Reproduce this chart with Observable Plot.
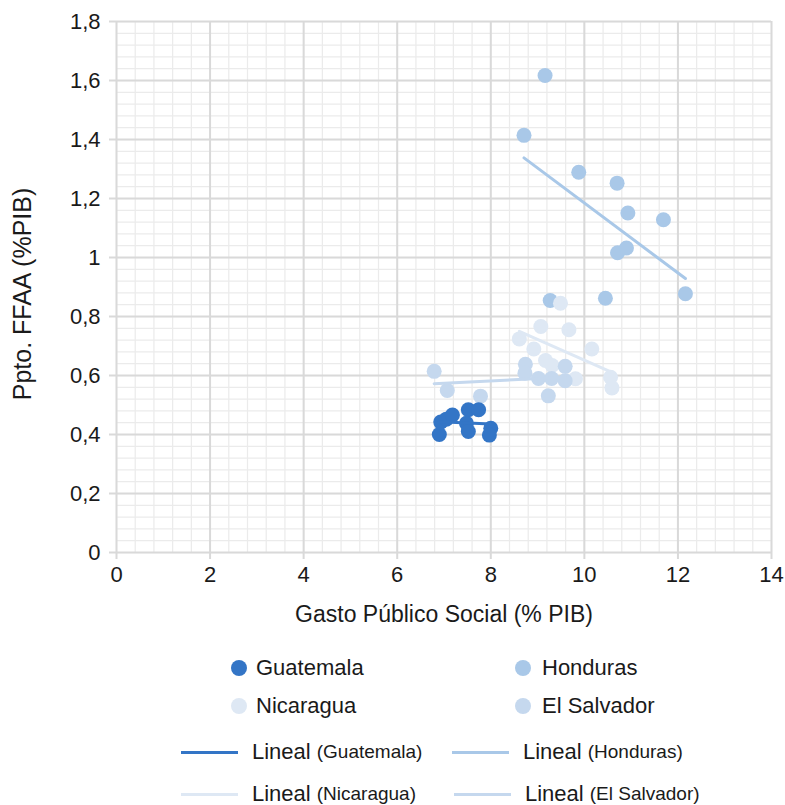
<!DOCTYPE html>
<html>
<head>
<meta charset="utf-8">
<script src="https://cdn.jsdelivr.net/npm/d3@7"></script>
<script src="https://cdn.jsdelivr.net/npm/@observablehq/plot@0.6"></script>
<style>
  body { margin: 0; background: #fff; font-family: "Liberation Sans", Arial, sans-serif; }
  #wrap { position: relative; width: 785px; height: 805px; }
  .li { position: absolute; display: flex; align-items: center; height: 30px; color: #1a1a1a; white-space: nowrap; }
  .dot { display: inline-block; width: 16px; height: 16px; border-radius: 50%; }
  .ln { display: inline-block; height: 3px; }
  .big { font-size: 22px; }
  .small { font-size: 19px; }
  #ylab { position: absolute; left: 22px; top: 294px; transform: translate(-50%, -50%) rotate(-90deg); white-space: nowrap; font-size: 25px; color: #1a1a1a; }
</style>
</head>
<body>
<div id="wrap"></div>
<script>
// ---- data ----
const countries = ["Guatemala", "Honduras", "Nicaragua", "El Salvador"];
const colors = ["#3375c6", "#a9c8e8", "#dee8f4", "#c5d8ee"];

const guatemalaGasto = [6.90, 6.93, 7.05, 7.18, 7.52, 7.74, 7.48, 7.52, 8.00, 7.97];
const guatemalaPpto  = [0.400, 0.442, 0.452, 0.466, 0.484, 0.484, 0.438, 0.410, 0.421, 0.398];

const hondurasGasto = [9.16, 8.71, 9.88, 10.70, 10.93, 11.69, 10.71, 10.90, 12.16, 10.45, 9.27];
const hondurasPpto  = [1.617, 1.414, 1.289, 1.252, 1.151, 1.128, 1.016, 1.032, 0.877, 0.862, 0.854];

const nicaraguaGasto = [9.49, 9.07, 9.67, 8.61, 8.92, 10.16, 9.17, 9.31, 9.81, 10.56, 10.59];
const nicaraguaPpto  = [0.845, 0.766, 0.755, 0.724, 0.690, 0.690, 0.651, 0.634, 0.589, 0.594, 0.558];

const salvadorGasto = [6.79, 7.07, 7.78, 8.74, 8.73, 9.02, 9.30, 9.59, 9.59, 9.23];
const salvadorPpto  = [0.614, 0.549, 0.530, 0.638, 0.608, 0.590, 0.590, 0.631, 0.582, 0.531];

const xTicks = [0, 2, 4, 6, 8, 10, 12, 14];
const yTicks = [0, 0.2, 0.4, 0.6, 0.8, 1, 1.2, 1.4, 1.6, 1.8];
const xLabel = "Gasto Público Social (% PIB)";
const yLabel = "Ppto. FFAA (%PIB)";

// ---- build tables ----
const seriesX = [guatemalaGasto, hondurasGasto, nicaraguaGasto, salvadorGasto];
const seriesY = [guatemalaPpto, hondurasPpto, nicaraguaPpto, salvadorPpto];
const tables = countries.map((c, i) => seriesX[i].map((x, j) => ({country: c, x, y: seriesY[i][j]})));

const fmt = d => String(+d.toFixed(1)).replace(".", ",");
const minorX = d3.range(0, 14.0001, 0.4);
const minorY = d3.range(0, 1.80001, 0.04);

const font = "'Liberation Sans', Arial, sans-serif";
// draw order: Honduras, Nicaragua, El Salvador, Guatemala
const order = [1, 2, 3, 0];

const chart = Plot.plot({
  width: 785,
  height: 630,
  marginLeft: 116,
  marginRight: 14,
  marginTop: 21,
  marginBottom: 78,
  style: {fontFamily: font, background: "#fff"},
  x: {domain: [0, 14]},
  y: {domain: [0, 1.8]},
  marks: [
    Plot.gridX(minorX, {stroke: "#ebebeb", strokeOpacity: 1, strokeWidth: 1.25}),
    Plot.gridY(minorY, {stroke: "#ebebeb", strokeOpacity: 1, strokeWidth: 1.25}),
    Plot.gridX(xTicks, {stroke: "#d9d9d9", strokeOpacity: 1, strokeWidth: 2}),
    Plot.gridY(yTicks, {stroke: "#d9d9d9", strokeOpacity: 1, strokeWidth: 2}),
    Plot.axisX(xTicks, {tickSize: 7, tickPadding: 7, stroke: "#d9d9d9", strokeWidth: 2, fill: "#1a1a1a", fontSize: 22, tickFormat: fmt, label: null}),
    Plot.axisY(yTicks, {tickSize: 7, tickPadding: 9, stroke: "#d9d9d9", strokeWidth: 2, fill: "#1a1a1a", fontSize: 22, tickFormat: fmt, label: null}),
    ...order.map(i => Plot.dot(tables[i], {x: "x", y: "y", r: 7.5, fill: colors[i], stroke: "none"})),
    ...order.map(i => Plot.linearRegressionY(tables[i], {x: "x", y: "y", stroke: colors[i], strokeWidth: 3, ci: 0})),
    Plot.text([xLabel], {text: d => d, frameAnchor: "bottom", dy: 62, fontSize: 23, fill: "#1a1a1a", lineAnchor: "middle"})
  ]
});

const wrap = document.getElementById("wrap");
wrap.appendChild(chart);

const yl = document.createElement("div");
yl.id = "ylab";
yl.textContent = yLabel;
wrap.appendChild(yl);

// ---- legend ----
const dotPos = [[231, 668], [515, 668], [231, 706], [515, 706]];
countries.forEach((c, i) => {
  const el = document.createElement("div");
  el.className = "li";
  el.style.left = dotPos[i][0] + "px";
  el.style.top = (dotPos[i][1] - 15) + "px";
  el.innerHTML = `<span class="dot" style="background:${colors[i]}"></span><span class="big" style="margin-left:${i % 2 ? 11 : 9}px">${c}</span>`;
  wrap.appendChild(el);
});
const linePos = [[181, 752], [452, 752], [181, 794], [454, 794]];
countries.forEach((c, i) => {
  const el = document.createElement("div");
  el.className = "li";
  el.style.left = linePos[i][0] + "px";
  el.style.top = (linePos[i][1] - 15) + "px";
  el.innerHTML = `<span class="ln" style="width:57px;background:${colors[i]}"></span><span class="big" style="margin-left:14px">Lineal</span><span class="small" style="margin-left:6px">(${c})</span>`;
  wrap.appendChild(el);
});
</script>
</body>
</html>
